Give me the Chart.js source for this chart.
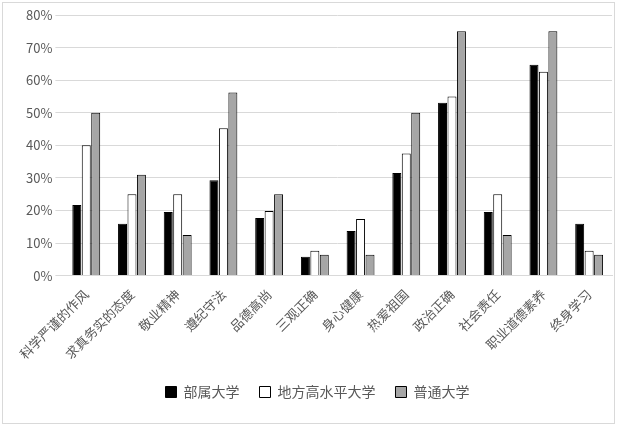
<!DOCTYPE html>
<html>
<head>
<meta charset="utf-8">
<script src="https://cdn.jsdelivr.net/npm/chart.js@4/dist/chart.umd.min.js"></script>
<style>
body{margin:0;background:#fff;}
#box{position:absolute;left:2px;top:2px;width:611px;height:420px;border:1px solid #d9d9d9;}
</style>
</head>
<body>
<div id="box"><canvas id="c"></canvas></div>
<script>
// categories and series
const categories = ["科学严谨的作风","求真务实的态度","敬业精神","遵纪守法","品德高尚","三观正确","身心健康","热爱祖国","政治正确","社会责任","职业道德素养","终身学习"];
const buShu = [21.7,15.9,19.5,29.3,17.7,5.8,13.7,31.5,53.1,19.5,64.7,15.9];
const diFang = [40,25,25,45.2,19.8,7.6,17.4,37.5,55,25,62.6,7.6];
const puTong = [50,31,12.5,56.2,25,6.4,6.4,50,75,12.5,75,6.4];

let font = {family:"'Noto Sans CJK SC', 'DejaVu Sans'", size:13};
new Chart(document.getElementById("c"), {
	type: 'bar',
	data: {
		labels: categories,
		datasets: [
			{label:"部属大学", data:buShu, backgroundColor:"#000", borderColor:"#000", borderWidth:1},
			{label:"地方高水平大学", data:diFang, backgroundColor:"#fff", borderColor:"#000", borderWidth:1},
			{label:"普通大学", data:puTong, backgroundColor:"#a6a6a6", borderColor:"#000", borderWidth:1}
		]
	},
	options: {
		responsive: true,
		maintainAspectRatio: false,
		animation: false,
		layout: {padding:{left:20,right:2,top:12,bottom:14}},
		datasets: {bar:{categoryPercentage:0.62, barPercentage:0.95}},
		plugins: {
			legend: {position:'bottom', labels:{color:"#595959", font:{family:font.family, size:14}, boxWidth:11, boxHeight:11, padding:20}},
			tooltip: {enabled:false}
		},
		scales: {
			x: {grid:{display:false}, border:{color:"#d9d9d9"},
				ticks:{color:"#595959", font:font, maxRotation:45, minRotation:45, autoSkip:false}},
			y: {min:0, max:80, border:{display:false}, grid:{color:"#d9d9d9"},
				ticks:{stepSize:10, color:"#595959", font:font, callback:v => v + "%"}}
		}
	}
});
</script>
</body>
</html>
